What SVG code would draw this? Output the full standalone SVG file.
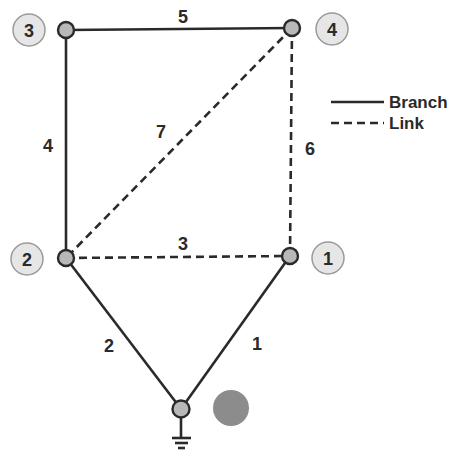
<svg xmlns="http://www.w3.org/2000/svg" width="459" height="457" viewBox="0 0 459 457">
<style>
.br{stroke:#2a2a2a;stroke-width:2.6;fill:none}
.lk{stroke:#2a2a2a;stroke-width:2.6;fill:none;stroke-dasharray:8,5}
.nd{fill:#b8b8b8;stroke:#2a2a2a;stroke-width:2.4}
.lb{fill:#e6e6e6;stroke:#9a9a9a;stroke-width:1.5}
.t{font-family:"Liberation Sans",Arial,sans-serif;font-weight:bold;font-size:18px;fill:#2a2a2a;text-anchor:middle}
.lg{font-family:"Liberation Sans",Arial,sans-serif;font-weight:bold;font-size:17px;fill:#2a2a2a}
</style>
<rect width="459" height="457" fill="#fff"/>
<g id="connectors">
<line class="br" x1="66" y1="30" x2="292" y2="28"/>
<line class="br" x1="66" y1="30" x2="66" y2="258"/>
<line class="lk" x1="292" y1="28" x2="66" y2="258"/>
<line class="lk" x1="292" y1="28" x2="290" y2="256"/>
<line class="lk" x1="66" y1="258" x2="290" y2="256"/>
<line class="br" x1="66" y1="258" x2="181" y2="409"/>
<line class="br" x1="290" y1="256" x2="181" y2="409"/>
<text class="t" x="183" y="23">5</text>
<text class="t" x="48" y="152">4</text>
<text class="t" x="161" y="138">7</text>
<text class="t" x="310" y="155">6</text>
<text class="t" x="183" y="250">3</text>
<text class="t" x="109" y="352">2</text>
<text class="t" x="257" y="350">1</text>
</g>
<g id="n3"><circle class="lb" cx="29" cy="30" r="16"/><text class="t" x="29" y="36.5">3</text><circle class="nd" cx="66" cy="30" r="8"/></g>
<g id="n4"><circle class="lb" cx="332" cy="29" r="16"/><text class="t" x="332" y="35.5">4</text><circle class="nd" cx="292" cy="28" r="8"/></g>
<g id="n2"><circle class="lb" cx="27" cy="259" r="16"/><text class="t" x="27" y="265.5">2</text><circle class="nd" cx="66" cy="258" r="8"/></g>
<g id="n1"><circle class="lb" cx="328" cy="258" r="16"/><text class="t" x="328" y="264.5">1</text><circle class="nd" cx="290" cy="256" r="8"/></g>
<g id="n0">
<line class="br" x1="181" y1="409" x2="181" y2="438" stroke-width="2"/>
<line class="br" x1="172" y1="438" x2="191" y2="438" stroke-width="2"/>
<line class="br" x1="175" y1="443" x2="188" y2="443" stroke-width="2"/>
<line class="br" x1="178" y1="448" x2="185" y2="448" stroke-width="2"/>
<circle class="nd" cx="181" cy="409" r="8.5"/>
<circle cx="231" cy="408" r="18" fill="#8c8c8c"/>
</g>
<g id="legend">
<line class="br" x1="331" y1="102" x2="384" y2="102" stroke-width="3"/>
<text class="lg" x="389" y="108">Branch</text>
<line class="lk" x1="331" y1="123" x2="384" y2="123" stroke-width="3" stroke-dasharray="9,4"/>
<text class="lg" x="389" y="129">Link</text>
</g>
</svg>
